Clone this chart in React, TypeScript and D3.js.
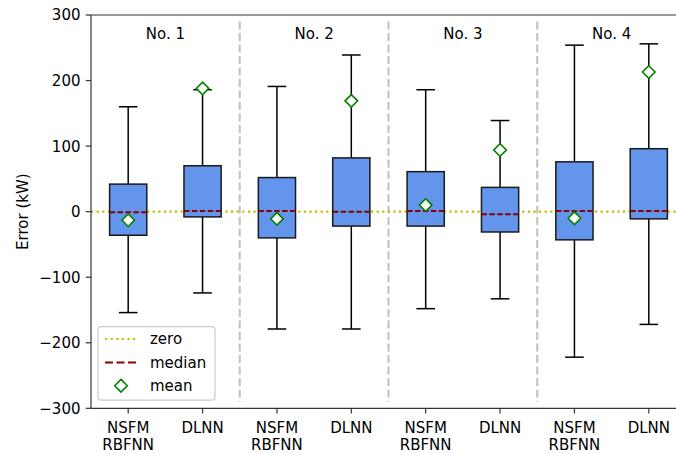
import React from "react";
import * as d3 from "d3";

// values (kW)
const groups = ["No. 1", "No. 2", "No. 3", "No. 4"];
const models = [["NSFM", "RBFNN"], ["DLNN"]];
const whiskerHigh = [160, 186, 191, 239, 186, 139, 254, 256];
const q3 = [42, 70, 52, 82, 61, 37, 76, 96];
const medians = [-1, 1, 1, 0, 1, -4, 1, 1];
const q1 = [-36, -8, -40, -22, -22, -31, -43, -11];
const whiskerLow = [-154, -124, -179, -179, -148, -133, -222, -172];
const means = [-13, 188, -11, 169, 10, 94, -10, 213];
const yTicks = [-300, -200, -100, 0, 100, 200, 300];

const W = 676;
const H = 454;
const m = { left: 91, top: 15, bottom: 408.3 };
const FONT = "DejaVu Sans, sans-serif";
const FS = 15;

const App = () => {
  const x = d3.scaleLinear().domain([0.5, 8.5]).range([m.left, 686]);
  const y = d3.scaleLinear().domain([-300, 300]).range([m.bottom, m.top]);
  const boxW = x(1.25) - x(1);
  const capW = x(1.125) - x(1);
  const fmt = (v: number) => (v < 0 ? "\u2212" + Math.abs(v) : String(v));

  const diamond = (cx: number, cy: number, r = 6.3) =>
    `M${cx},${cy - r}L${cx + r},${cy}L${cx},${cy + r}L${cx - r},${cy}Z`;

  const boxes = whiskerHigh.map((hi, i) => ({
    pos: i + 1,
    hi,
    q3: q3[i],
    med: medians[i],
    q1: q1[i],
    lo: whiskerLow[i],
    mean: means[i],
    label: models[i % 2],
  }));

  return (
    <svg
      width={W}
      height={H}
      style={{ position: "absolute", left: 0, top: 0, background: "white" }}
      fontFamily={FONT}
    >
      {/* group separators */}
      {[2.5, 4.5, 6.5].map((s) => (
        <line
          key={s}
          x1={x(s)}
          x2={x(s)}
          y1={y(290)}
          y2={y(-290)}
          stroke="#c0c0c0"
          strokeWidth={2}
          strokeDasharray="8,3.5"
        />
      ))}
      {/* zero line */}
      <line
        x1={m.left}
        x2={W}
        y1={y(0)}
        y2={y(0)}
        stroke="#bfbf00"
        strokeWidth={2.2}
        strokeDasharray="2.2,3.4"
      />
      {boxes.map((b) => {
        const cx = x(b.pos);
        return (
          <g key={b.pos}>
            <line x1={cx} x2={cx} y1={y(b.q3)} y2={y(b.hi)} stroke="#000" strokeWidth={1.5} />
            <line x1={cx} x2={cx} y1={y(b.q1)} y2={y(b.lo)} stroke="#000" strokeWidth={1.5} />
            <line x1={cx - capW} x2={cx + capW} y1={y(b.hi)} y2={y(b.hi)} stroke="#000" strokeWidth={1.5} />
            <line x1={cx - capW} x2={cx + capW} y1={y(b.lo)} y2={y(b.lo)} stroke="#000" strokeWidth={1.5} />
            <rect
              x={cx - boxW}
              y={y(b.q3)}
              width={boxW * 2}
              height={y(b.q1) - y(b.q3)}
              fill="#6495ED"
              stroke="#1a1a1a"
              strokeWidth={1.5}
            />
            <line
              x1={cx - boxW}
              x2={cx + boxW}
              y1={y(b.med)}
              y2={y(b.med)}
              stroke="#8b0000"
              strokeWidth={2}
              strokeDasharray="5.5,2.4"
            />
            <path d={diamond(cx, y(b.mean))} fill="white" stroke="#008000" strokeWidth={1.6} />
          </g>
        );
      })}
      {/* group titles */}
      {groups.map((g, i) => (
        <text key={g} x={x(2 * i + 1.5)} y={y(263)} fontSize={FS} textAnchor="middle" fill="#000">
          {g}
        </text>
      ))}
      {/* spines */}
      <line x1={m.left} x2={W} y1={m.top} y2={m.top} stroke="#333" strokeWidth={1.2} />
      <line x1={m.left} x2={W} y1={m.bottom} y2={m.bottom} stroke="#333" strokeWidth={1.2} />
      <line x1={m.left} x2={m.left} y1={m.top} y2={m.bottom} stroke="#333" strokeWidth={1.2} />
      {/* y axis */}
      {yTicks.map((t) => (
        <g key={t}>
          <line x1={m.left - 5.25} x2={m.left} y1={y(t)} y2={y(t)} stroke="#333" strokeWidth={1.2} />
          <text x={m.left - 10.5} y={y(t)} dy="0.36em" fontSize={FS} textAnchor="end" fill="#000">
            {fmt(t)}
          </text>
        </g>
      ))}
      <text
        transform={`translate(27.5,${(m.top + m.bottom) / 2}) rotate(-90)`}
        fontSize={FS}
        textAnchor="middle"
        fill="#000"
      >
        Error (kW)
      </text>
      {/* x axis */}
      {boxes.map((b) => (
        <g key={"xt" + b.pos}>
          <line x1={x(b.pos)} x2={x(b.pos)} y1={m.bottom} y2={m.bottom + 5.25} stroke="#333" strokeWidth={1.2} />
          {b.label.map((l, j) => (
            <text key={l} x={x(b.pos)} y={432.7 + j * 17.5} fontSize={FS} textAnchor="middle" fill="#000">
              {l}
            </text>
          ))}
        </g>
      ))}
      {/* legend */}
      <g>
        <rect x={98} y={326.7} width={117} height={73.5} rx={3} fill="white" fillOpacity={0.8} stroke="#cccccc" strokeWidth={1.2} />
        <line x1={105} x2={137} y1={339} y2={339} stroke="#bfbf00" strokeWidth={2.2} strokeDasharray="2.2,3.4" />
        <text x={150} y={339} dy="0.36em" fontSize={FS} fill="#000">zero</text>
        <line x1={105} x2={137} y1={362.5} y2={362.5} stroke="#8b0000" strokeWidth={2} strokeDasharray="8,3.5" />
        <text x={150} y={362.5} dy="0.36em" fontSize={FS} fill="#000">median</text>
        <path d={diamond(121, 385.7)} fill="white" stroke="#008000" strokeWidth={1.6} />
        <text x={150} y={385.7} dy="0.36em" fontSize={FS} fill="#000">mean</text>
      </g>
    </svg>
  );
};

export default App;
